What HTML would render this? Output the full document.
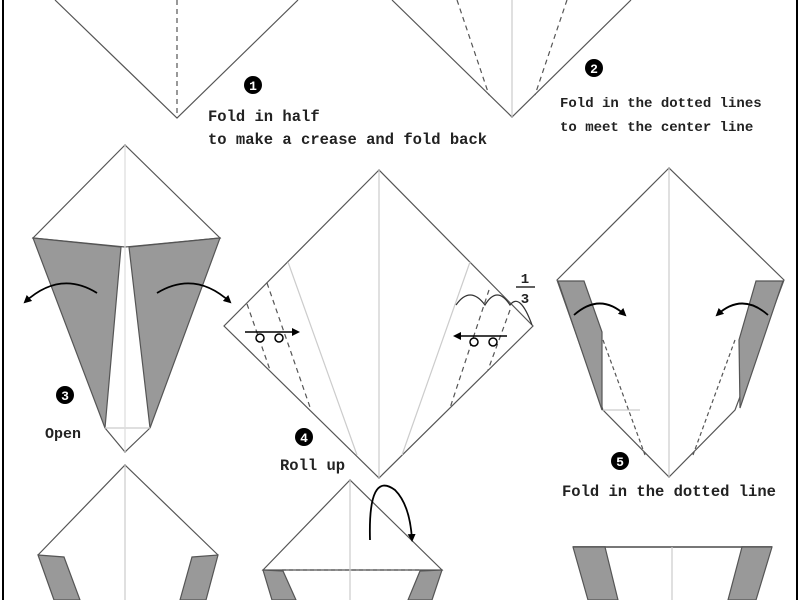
<!DOCTYPE html>
<html><head><style>
html,body{margin:0;padding:0;background:#fff;}
svg{display:block;}
text{font-family:"Liberation Mono","DejaVu Sans Mono",monospace;font-weight:bold;fill:#222;}
</style></head><body>
<svg width="800" height="600" viewBox="0 0 800 600" xmlns="http://www.w3.org/2000/svg">
<defs>
<marker id="ah" markerWidth="8" markerHeight="8" refX="6" refY="4" orient="auto" markerUnits="userSpaceOnUse"><path d="M0,0 L8,4 L0,8 Z" fill="#000"/></marker>
</defs>
<rect x="0" y="0" width="800" height="600" fill="#fff"/>
<line x1="3" y1="0" x2="3" y2="600" stroke="#000" stroke-width="2"/>
<line x1="797" y1="0" x2="797" y2="600" stroke="#000" stroke-width="2"/>

<g stroke="#555" stroke-width="1.2" fill="none">
<polyline points="55,0 177,118 298,0"/>
<line x1="177" y1="0" x2="177" y2="118" stroke-dasharray="5,4"/>
<polyline points="392,0 512,117 631,0"/>
<line x1="512" y1="0" x2="512" y2="117" stroke="#ccc"/>
<line x1="457" y1="0" x2="489" y2="95" stroke-dasharray="5,4"/>
<line x1="567" y1="0" x2="535" y2="95" stroke-dasharray="5,4"/>
</g>
<circle cx="253" cy="85" r="9" fill="#000"/><text x="253" y="90" font-size="13" text-anchor="middle" style="fill:#fff">1</text>
<text x="208" y="121" font-size="15.5">Fold in half</text>
<text x="208" y="144" font-size="15.5">to make a crease and fold back</text>
<circle cx="594" cy="68" r="9" fill="#000"/><text x="594" y="73" font-size="13" text-anchor="middle" style="fill:#fff">2</text>
<text x="560" y="107" font-size="14">Fold in the dotted lines</text>
<text x="560" y="131" font-size="14">to meet the center line</text>

<g stroke="#555" stroke-width="1.2">
<polygon points="125,145 33,238 125,247 220,238" fill="#fff"/>
<polygon points="33,238 121,247 105,428" fill="#999"/>
<polygon points="129,247 220,238 150,428" fill="#999"/>
<polyline points="105,428 125,452 150,428" fill="none"/>
<line x1="105" y1="428" x2="150" y2="428" stroke="#ccc"/>
<line x1="125" y1="145" x2="125" y2="452" stroke="#ddd"/>
</g>
<path d="M97,293 Q60,270 25,302" stroke="#000" stroke-width="1.8" fill="none" marker-end="url(#ah)"/>
<path d="M157,293 Q195,270 230,302" stroke="#000" stroke-width="1.8" fill="none" marker-end="url(#ah)"/>
<circle cx="65" cy="395" r="9" fill="#000"/><text x="65" y="400" font-size="13" text-anchor="middle" style="fill:#fff">3</text>
<text x="45" y="438" font-size="15">Open</text>

<g stroke="#555" stroke-width="1.2" fill="none">
<polygon points="379,170 224,326 379,478 533,326" fill="#fff"/>
<line x1="379" y1="170" x2="379" y2="478" stroke="#ccc"/>
<line x1="288" y1="262" x2="357" y2="455" stroke="#ccc"/>
<line x1="470" y1="262" x2="402" y2="455" stroke="#ccc"/>
<line x1="267" y1="283" x2="311" y2="410" stroke-dasharray="5,4"/>
<line x1="247" y1="304" x2="270" y2="370" stroke-dasharray="5,4"/>
<line x1="489" y1="290" x2="450" y2="408" stroke-dasharray="5,4"/>
<line x1="510" y1="310" x2="488" y2="370" stroke-dasharray="5,4"/>
<path d="M456,305 Q470,285 485,305 Q497,285 510,305 Q520,292 532,325" stroke="#333"/>
</g>
<line x1="245" y1="332" x2="298" y2="332" stroke="#000" stroke-width="1.5" marker-end="url(#ah)"/>
<circle cx="260" cy="338" r="4" fill="#fff" stroke="#000" stroke-width="1.5"/>
<circle cx="279" cy="338" r="4" fill="#fff" stroke="#000" stroke-width="1.5"/>
<line x1="507" y1="336" x2="455" y2="336" stroke="#000" stroke-width="1.5" marker-end="url(#ah)"/>
<circle cx="474" cy="342" r="4" fill="#fff" stroke="#000" stroke-width="1.5"/>
<circle cx="493" cy="342" r="4" fill="#fff" stroke="#000" stroke-width="1.5"/>
<text x="525" y="283" font-size="14" text-anchor="middle">1</text>
<line x1="516" y1="287" x2="535" y2="287" stroke="#000" stroke-width="1.2"/>
<text x="525" y="303" font-size="14" text-anchor="middle">3</text>
<circle cx="304" cy="437" r="9" fill="#000"/><text x="304" y="442" font-size="13" text-anchor="middle" style="fill:#fff">4</text>
<text x="280" y="470" font-size="15.5">Roll up</text>

<g stroke="#555" stroke-width="1.2">
<polygon points="669,168 557,280 603,410 669,477 735,410 784,280" fill="#fff"/>
<line x1="669" y1="168" x2="669" y2="477" stroke="#ccc"/>
<polygon points="558,281 584,281 602,332 602,410" fill="#999"/>
<polygon points="756,281 783,281 740,408 739,340" fill="#999"/>
<line x1="603" y1="410" x2="640" y2="410" stroke="#ccc"/>
<line x1="603" y1="340" x2="645" y2="455" stroke-dasharray="4,3" fill="none"/>
<line x1="735" y1="340" x2="693" y2="455" stroke-dasharray="4,3" fill="none"/>
</g>
<path d="M574,315 Q600,292 625,315" stroke="#000" stroke-width="1.8" fill="none" marker-end="url(#ah)"/>
<path d="M768,315 Q742,292 717,315" stroke="#000" stroke-width="1.8" fill="none" marker-end="url(#ah)"/>
<circle cx="620" cy="461" r="9" fill="#000"/><text x="620" y="466" font-size="13" text-anchor="middle" style="fill:#fff">5</text>
<text x="562" y="496" font-size="15.5">Fold in the dotted line</text>

<g stroke="#555" stroke-width="1.2">
<polyline points="38,555 125,465 218,555" fill="#fff"/>
<line x1="125" y1="465" x2="125" y2="600" stroke="#ccc"/>
<polygon points="38,555 64,557 80,600 54,600" fill="#999"/>
<polygon points="192,557 218,555 206,600 180,600" fill="#999"/>
</g>
<g stroke="#555" stroke-width="1.2">
<polygon points="350,480 263,570 442,570" fill="#fff"/>
<line x1="350" y1="480" x2="350" y2="600" stroke="#ccc"/>
<line x1="282" y1="570" x2="422" y2="570" stroke-dasharray="4,3"/>
<polygon points="263,570 283,571 296,600 272,600" fill="#999"/>
<polygon points="420,571 442,570 432,600 408,600" fill="#999"/>
</g>
<path d="M370,540 Q368,470 395,490 Q410,505 412,540" stroke="#000" stroke-width="1.8" fill="none" marker-end="url(#ah)"/>
<g stroke="#555" stroke-width="1.2">
<line x1="573" y1="547" x2="772" y2="547" stroke="#777" stroke-width="2"/>
<line x1="672" y1="547" x2="672" y2="600" stroke="#ccc"/>
<polygon points="573,547 605,547 618,600 588,600" fill="#999"/>
<polygon points="742,547 772,547 756,600 728,600" fill="#999"/>
</g>
</svg>
</body></html>
